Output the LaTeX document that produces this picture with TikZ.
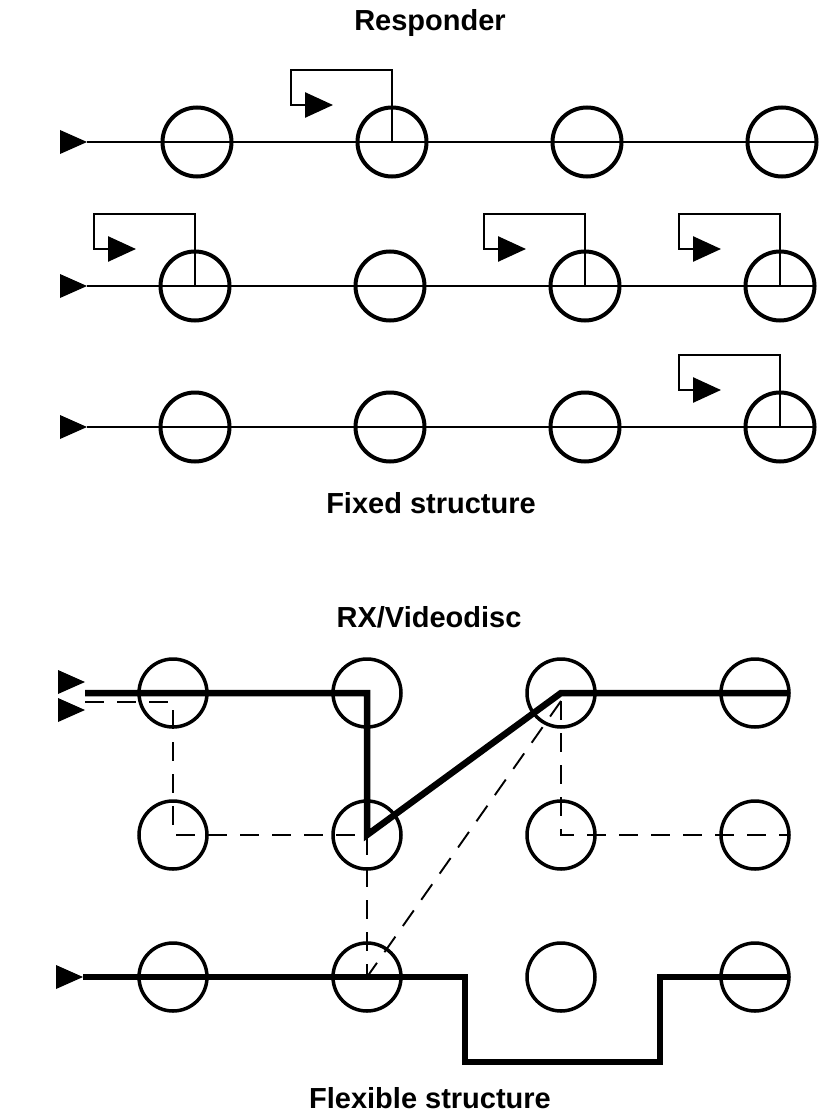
\documentclass[tikz,border=0pt]{standalone}
\usepackage{fontspec}
\setmainfont{Liberation Sans}
\usetikzlibrary{positioning,shapes.geometric,arrows.meta}

\begin{document}
\begin{tikzpicture}[
	x=1pt, y=-1pt,
	node distance=74pt and 126pt,
	disc/.style={circle, draw=black, line width=4pt, minimum size=69pt, inner sep=0pt, outer sep=0pt},
	flexdisc/.style={circle, draw=black, line width=3.5pt, minimum size=68pt, inner sep=0pt, outer sep=0pt},
	inarrow/.style={isosceles triangle, isosceles triangle stretches, fill=black, minimum width=24pt, minimum height=27pt, inner sep=0pt, outer sep=0pt, anchor=apex},
	wire/.style={line width=2.2pt, draw=black},
	loopline/.style={line width=2.6pt, -{Triangle[length=28pt,width=25pt]}},
	route/.style={line width=6.5pt},
	alt/.style={line width=1.9pt, dash pattern=on 19pt off 13pt},
	title/.style={font=\fontsize{29}{34}\selectfont\bfseries, anchor=base}
]
\useasboundingbox (0,0) rectangle (823,1113);

% fixed structure
\node (resp) [title] at (430,31) {Responder};
\node (f11) [disc] at (197,142) {};
\node (f12) [disc, right=of f11] {};
\node (f13) [disc, right=of f12] {};
\node (f14) [disc, right=of f13] {};
\node (f21) [disc] at (195,286) {};
\node (f22) [disc, right=of f21] {};
\node (f23) [disc, right=of f22] {};
\node (f24) [disc, right=of f23] {};
\node (f31) [disc] at (195,427) {};
\node (f32) [disc, right=of f31] {};
\node (f33) [disc, right=of f32] {};
\node (f34) [disc, right=of f33] {};
\node (in1) [inarrow] at (87,142) {};
\node (in2) [inarrow] at (87,286) {};
\node (in3) [inarrow] at (87,427) {};
\draw [wire] (in1.apex) -- (f14.east);
\draw [wire] (in2.apex) -- (f24.east);
\draw [wire] (in3.apex) -- (f34.east);
\foreach \c in {f12,f21,f23,f24,f34}
	\draw [loopline] (\c.center) -- ++(0,-72) -- ++(-101,0) -- ++(0,35) -- ++(42,0);
\node (fixed) [title] at (431,513) {Fixed structure};

% flexible structure
\node (rx) [title] at (429,627) {RX/Videodisc};
\node (x11) [flexdisc] at (173,693) {};
\node (x12) [flexdisc, right=of x11] {};
\node (x13) [flexdisc, right=of x12] {};
\node (x14) [flexdisc, right=of x13] {};
\node (x21) [flexdisc, below=of x11] {};
\node (x22) [flexdisc, right=of x21] {};
\node (x23) [flexdisc, right=of x22] {};
\node (x24) [flexdisc, right=of x23] {};
\node (x31) [flexdisc, below=of x21] {};
\node (x32) [flexdisc, right=of x31] {};
\node (x33) [flexdisc, right=of x32] {};
\node (x34) [flexdisc, right=of x33] {};
\node (ina) [inarrow] at (85,682) {};
\node (inb) [inarrow] at (85,710) {};
\node (inc) [inarrow] at (83,977) {};
\coordinate (tap) at (85,702);
\coordinate (dipl) at (465,1062);
\coordinate (dipr) at (660,1062);
\draw [alt] (tap) -| (x21.center) -- (x22.center) -- (x32.center);
\draw [alt] ([yshift=-8pt]x13.center) -- (x32.center);
\draw [alt] ([yshift=-8pt]x13.center) -- (x23.center) -- (x24.east);
\draw [route] (ina.apex |- x11.center) -- (x12.center) -- (x22.center) -- (x13.center) -- (x14.east);
\draw [route] (inc.apex) -| (dipl) -- (dipr) |- (x34.east);
\node (flex) [title] at (430,1108) {Flexible structure};
\end{tikzpicture}
\end{document}
